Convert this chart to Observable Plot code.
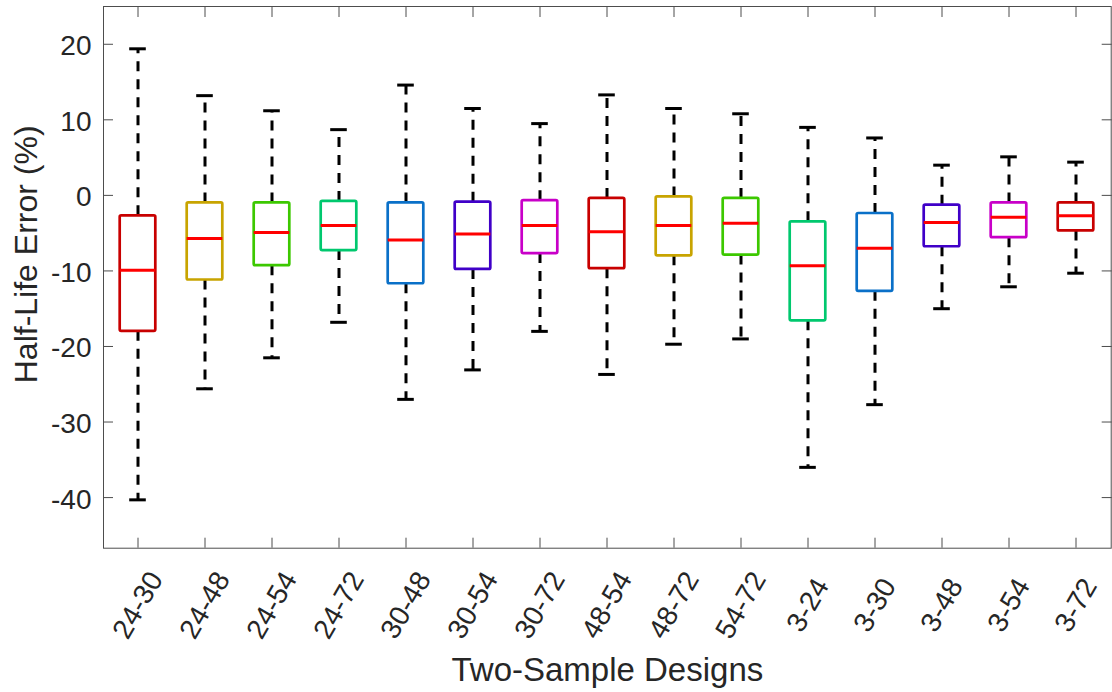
<!DOCTYPE html>
<html>
<head>
<meta charset="utf-8">
<script src="https://cdn.jsdelivr.net/npm/d3@7"></script>
<script src="https://cdn.jsdelivr.net/npm/@observablehq/plot@0.6"></script>
<style>
  html, body { margin: 0; padding: 0; background: #fff; }
  #chart { width: 1112px; height: 692px; }
</style>
</head>
<body>
<div id="chart"></div>
<script>
// Two-sample design boxplots of half-life error (%)
const designs = ["24-30", "24-48", "24-54", "24-72", "30-48", "30-54", "30-72",
                 "48-54", "48-72", "54-72", "3-24", "3-30", "3-48", "3-54", "3-72"];
const upperWhisker = [19.4, 13.2, 11.2, 8.7, 14.6, 11.5, 9.5, 13.3, 11.5, 10.8, 9.0, 7.6, 4.0, 5.1, 4.4];
const upperQuartile = [-2.7, -1.0, -1.0, -0.8, -1.0, -0.9, -0.7, -0.4, -0.2, -0.4, -3.5, -2.4, -1.3, -1.0, -1.0];
const medians = [-9.9, -5.7, -4.9, -4.0, -5.9, -5.1, -4.0, -4.8, -4.0, -3.7, -9.3, -7.0, -3.6, -2.9, -2.7];
const lowerQuartile = [-18.0, -11.2, -9.3, -7.3, -11.7, -9.8, -7.7, -9.7, -8.0, -7.9, -16.6, -12.7, -6.8, -5.6, -4.7];
const lowerWhisker = [-40.3, -25.6, -21.5, -16.8, -27.0, -23.1, -18.0, -23.7, -19.7, -19.0, -36.0, -27.7, -15.0, -12.1, -10.3];

// box outline colours cycle through seven hues
const palette = ["#c80000", "#c8a400", "#3cc800", "#00c86e", "#0a70c8", "#4000c8", "#c800c8"];
const yTicks = [-40, -30, -20, -10, 0, 10, 20];
const xTitle = "Two-Sample Designs";
const yTitle = "Half-Life Error (%)";

const rows = designs.map((name, i) => ({
  name,
  hi: upperWhisker[i],
  q3: upperQuartile[i],
  med: medians[i],
  q1: lowerQuartile[i],
  lo: lowerWhisker[i],
  color: palette[i % palette.length]
}));

const axisColor = "#4d4d4d";
const textColor = "#262626";
const boxInset = 15.7;
const capInset = 25.2;
const lineW = 3;
const whisker = {stroke: "black", strokeWidth: lineW, strokeDasharray: "10,8"};

const chart = Plot.plot({
  width: 1112,
  height: 692,
  marginLeft: 103,
  marginRight: 1.3,
  marginTop: 6,
  marginBottom: 144.3,
  style: {fontFamily: "'Liberation Sans', Arial, Helvetica, sans-serif", background: "white"},
  x: {domain: designs, padding: 0, label: null},
  y: {domain: [-46.7, 25], label: null},
  color: {type: "identity"},
  marks: [
    // whiskers from box edges out to the adjacent values
    Plot.ruleX(rows, {x: "name", y1: "q3", y2: "hi", ...whisker}),
    Plot.ruleX(rows, {x: "name", y1: "q1", y2: "lo", ...whisker}),
    Plot.tickY(rows, {x: "name", y: "hi", stroke: "black", strokeWidth: lineW, insetLeft: capInset, insetRight: capInset}),
    Plot.tickY(rows, {x: "name", y: "lo", stroke: "black", strokeWidth: lineW, insetLeft: capInset, insetRight: capInset}),
    // interquartile boxes
    Plot.barY(rows, {x: "name", y1: "q1", y2: "q3", fill: "white", stroke: "color", strokeWidth: 2.7,
                     strokeLinejoin: "round", rx: 1.5, insetLeft: boxInset, insetRight: boxInset}),
    // medians
    Plot.tickY(rows, {x: "name", y: "med", stroke: "#ff0000", strokeWidth: lineW, insetLeft: boxInset, insetRight: boxInset}),
    Plot.frame({stroke: axisColor, strokeWidth: 1}),
    // inward tick marks on all four sides
    Plot.axisX({anchor: "bottom", tickSize: -10, tickFormat: () => "", stroke: axisColor}),
    Plot.axisX({anchor: "top", tickSize: -10, tickFormat: () => "", stroke: axisColor}),
    Plot.axisY({anchor: "left", ticks: yTicks, tickSize: -10, tickFormat: () => "", stroke: axisColor}),
    Plot.axisY({anchor: "right", ticks: yTicks, tickSize: -10, tickFormat: () => "", stroke: axisColor}),
    // tick labels
    Plot.axisX({anchor: "bottom", tickSize: 0, tickRotate: -60, textAnchor: "middle", lineAnchor: "middle",
                tickPadding: 57, fontSize: 28, fill: textColor}),
    Plot.axisY({anchor: "left", ticks: yTicks, tickSize: 0, tickPadding: 12, fontSize: 28, fill: textColor, dy: 2,
                tickFormat: d => String(d)}),
    // axis titles
    Plot.text([xTitle], {text: d => d, frameAnchor: "bottom", textAnchor: "middle", dy: 122, fontSize: 33,
                         fill: textColor, lineAnchor: "middle"}),
    Plot.text([yTitle], {text: d => d, frameAnchor: "left", textAnchor: "middle", rotate: -90, dx: -77, dy: -23,
                         fontSize: 32, fill: textColor, lineAnchor: "middle"})
  ]
});

document.getElementById("chart").appendChild(chart);
</script>
</body>
</html>
